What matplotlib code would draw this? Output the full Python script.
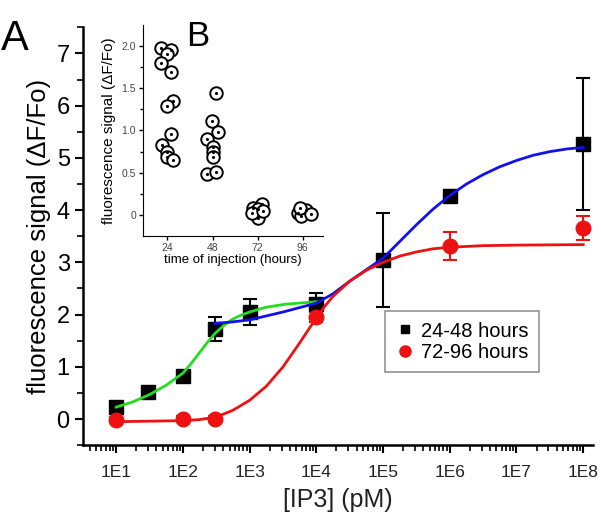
import numpy as np
import matplotlib
matplotlib.use("Agg")
import matplotlib.pyplot as plt
from matplotlib.lines import Line2D
from matplotlib.ticker import FixedLocator, LogLocator, NullFormatter

plt.rcParams['font.family'] = ['Liberation Sans', 'DejaVu Sans']

# main panel: IP3 dose response
conc = [1e1, 3e1, 1e2, 3e2, 1e3, 1e4, 1e5, 1e6, 1e8]
young_y = [0.23, 0.52, 0.82, 1.72, 2.05, 2.20, 3.04, 4.28, 5.26]
young_err = [0.10, 0.05, 0.10, 0.23, 0.24, 0.22, 0.90, 0.10, 1.26]

old_conc = [1e1, 1e2, 3e2, 1e4, 1e6, 1e8]
old_y = [-0.01, 0.0, 0.0, 1.95, 3.31, 3.65]
old_err = [0.05, 0.05, 0.05, 0.10, 0.27, 0.23]

# fitted curves (log10 of concentration, signal)
green_logx = [1.0, 1.25, 1.5, 1.75, 2.0, 2.12, 2.24, 2.36, 2.48, 2.61, 2.74,
              2.87, 3.0, 3.24, 3.54, 3.94, 4.0]
green_y = [0.23, 0.33, 0.47, 0.65, 0.88, 1.06, 1.26, 1.46, 1.64, 1.79, 1.91,
           1.99, 2.05, 2.14, 2.20, 2.24, 2.245]

blue_logx = [2.48, 2.74, 3.0, 3.5, 4.0, 4.25, 4.5, 4.75, 5.0, 5.25, 5.5, 5.75,
             6.0, 6.25, 6.5, 6.75, 7.0, 7.25, 7.5, 7.75, 8.0]
blue_y = [1.83, 1.86, 1.90, 2.05, 2.22, 2.40, 2.64, 2.86, 3.08, 3.40, 3.72, 4.02,
          4.28, 4.50, 4.68, 4.83, 4.95, 5.05, 5.12, 5.17, 5.20]

red_logx = [1.0, 1.5, 2.0, 2.25, 2.5, 2.75, 3.0, 3.25, 3.5, 3.75, 3.875, 4.0, 4.125,
            4.25, 4.5, 4.75, 5.0, 5.25, 5.5, 5.75, 6.0, 6.5, 7.0, 8.0]
red_y = [-0.05, -0.04, -0.03, -0.01, 0.04, 0.17, 0.36, 0.63, 1.00, 1.46, 1.70, 1.94,
         2.16, 2.35, 2.64, 2.85, 3.00, 3.12, 3.20, 3.26, 3.29, 3.32, 3.33, 3.34]

x_ticks = [1e1, 1e2, 1e3, 1e4, 1e5, 1e6, 1e7, 1e8]
x_tick_labels = ["1E1", "1E2", "1E3", "1E4", "1E5", "1E6", "1E7", "1E8"]

# inset: signal vs time of injection
inj_x = [20.8, 26.1, 23.5, 20.8, 26.1, 26.7, 23.5, 26.1, 21.3, 24.0, 24.0, 26.7,
         50.1, 47.5, 50.7, 45.3, 48.0, 48.0, 48.0, 45.3, 50.1,
         69.8, 74.3, 72.0, 72.0, 69.0, 75.0,
         93.5, 98.0, 95.3, 94.4, 100.5]
inj_y = [1.98, 1.95, 1.90, 1.80, 1.69, 1.35, 1.29, 0.96, 0.83, 0.74, 0.68, 0.65,
         1.44, 1.11, 0.98, 0.90, 0.80, 0.75, 0.69, 0.49, 0.51,
         0.08, 0.13, 0.07, -0.04, 0.02, 0.05,
         0.02, 0.06, -0.01, 0.08, 0.01]

fig = plt.figure(figsize=(6.01, 5.25), dpi=100)
ax = fig.add_axes([0.138, 0.152, 0.849, 0.796])

ax.errorbar(conc, young_y, yerr=young_err, fmt='s', color='black', ms=9.5,
            ecolor='black', elinewidth=1.5, capsize=5, capthick=1.5, zorder=3)
ax.errorbar(old_conc, old_y, yerr=old_err, fmt='o', color='#ee1111', ms=10.5,
            ecolor='#ee1111', elinewidth=1.5, capsize=5, capthick=1.5, zorder=3)

ax.plot(10 ** np.array(green_logx), green_y, color='#22dd22', lw=2, zorder=4)
ax.plot(10 ** np.array(blue_logx), blue_y, color='#1111ee', lw=2, zorder=4)
ax.plot(10 ** np.array(red_logx), red_y, color='#ee1111', lw=2, zorder=4)

ax.set_xscale('log')
ax.set_xlim(10 ** 0.5, 10 ** 8.15)
ax.set_ylim(-0.5, 7.5)
ax.set_xticks(x_ticks)
ax.set_xticklabels(x_tick_labels, fontsize=12.5, color='#222222')
ax.xaxis.set_minor_locator(LogLocator(base=10, subs=np.arange(2, 10)))
ax.xaxis.set_minor_formatter(NullFormatter())
ax.set_yticks(range(0, 8))
ax.yaxis.set_minor_locator(FixedLocator(np.arange(-0.5, 7.6, 0.5)))
ax.tick_params(axis='y', labelsize=17, length=6, width=1.5)
ax.tick_params(axis='x', length=6, width=1.5, pad=8)
ax.tick_params(which='minor', length=4, width=1.2)
for side in ['top', 'right']:
    ax.spines[side].set_visible(False)
for side in ['left', 'bottom']:
    ax.spines[side].set_linewidth(1.8)

ax.set_xlabel("[IP3] (pM)", fontsize=18, labelpad=6, color='#222222')
ax.set_ylabel("fluorescence signal (\u0394F/Fo)", fontsize=18.5, labelpad=4)

handles = [Line2D([], [], ls='', marker='s', ms=6, color='black'),
           Line2D([], [], ls='', marker='o', ms=8, color='#ee1111')]
leg = ax.legend(handles, ['24-48 hours', '72-96 hours'], loc='upper left',
                bbox_to_anchor=(0.592, 0.32), fontsize=14.5,
                frameon=True, fancybox=False, edgecolor='#777777',
                handletextpad=0.3, handlelength=1.0, borderpad=0.5,
                labelspacing=0.1, borderaxespad=0)
leg.get_frame().set_linewidth(1.2)

fig.text(0.002, 0.905, "A", fontsize=30)

# inset B
ins = fig.add_axes([0.238, 0.5505, 0.3, 0.402])
ins.plot(inj_x, inj_y, 'o', ms=9, mfc='white', mec='black', mew=1.4)
ins.plot(inj_x, inj_y, '.', ms=2.5, color='black')
ins.set_xlim(11, 107)
ins.set_ylim(-0.25, 2.25)
ins.set_xticks([24, 48, 72, 96])
ins.set_yticks([0, 0.5, 1.0, 1.5, 2.0])
ins.set_yticklabels(["0", "0.5", "1.0", "1.5", "2.0"])
ins.yaxis.set_minor_locator(FixedLocator([0.25, 0.75, 1.25, 1.75]))
ins.tick_params(labelsize=7.5, labelcolor='#444444', length=3, width=1, pad=2)
ins.tick_params(which='minor', length=2, width=1)
for side in ['top', 'right']:
    ins.spines[side].set_visible(False)
ins.set_xlabel("time of injection (hours)", fontsize=9.5, labelpad=1)
ins.set_ylabel("fluorescence signal (\u0394F/Fo)", fontsize=11, labelpad=4)
ins.patch.set_alpha(0)
fig.text(0.31, 0.912, "B", fontsize=25)

fig.savefig("out.png", dpi=100)
